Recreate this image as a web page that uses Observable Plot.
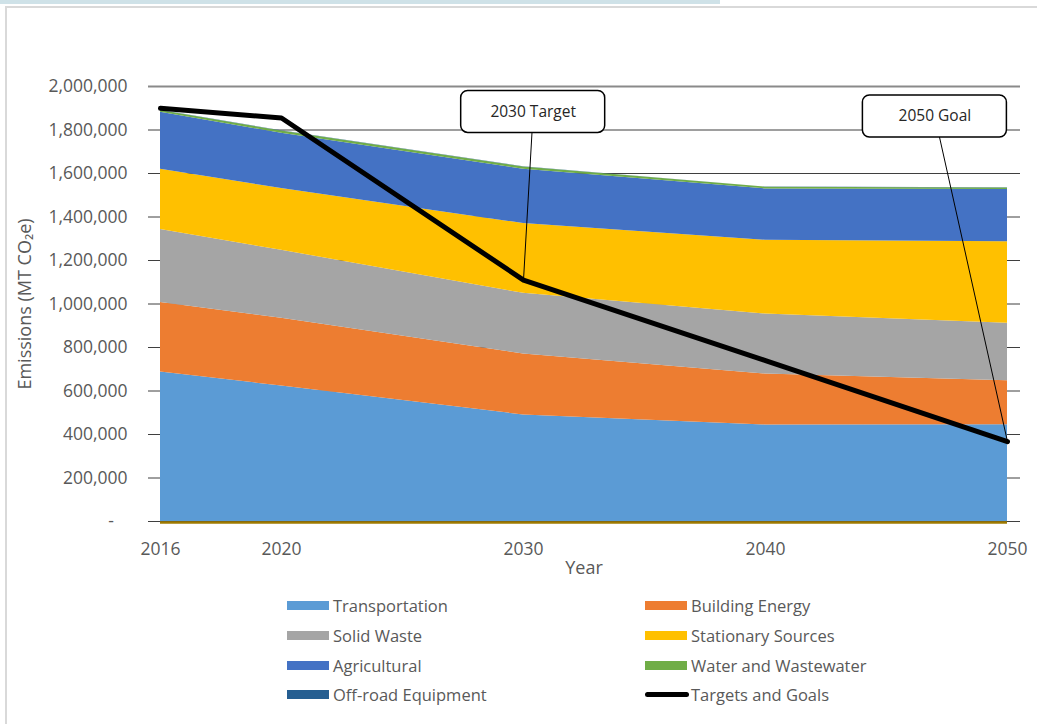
<!DOCTYPE html>
<html>
<head>
<meta charset="utf-8">
<script src="https://cdn.jsdelivr.net/npm/d3@7"></script>
<script src="https://cdn.jsdelivr.net/npm/@observablehq/plot@0.6"></script>
<style>
  html, body { margin: 0; padding: 0; background: #fff; overflow: hidden; }
  body { width: 1037px; height: 724px; position: relative; font-family: "Open Sans", sans-serif; }
  #topstrip { position: absolute; left: 0; top: 0; width: 720px; height: 4px; background: #cfe2e8; }
  #frame { position: absolute; left: 5px; top: 6px; width: 1100px; height: 800px; border-left: 2px solid #d9d9d9; border-top: 2px solid #d9d9d9; }
  #chart { position: absolute; left: 0; top: 0; }
  #legend { position: absolute; left: 0; top: 0; width: 1037px; height: 724px; pointer-events: none; }
  .item { position: absolute; display: flex; align-items: center; font-size: 16.5px; color: #595959; white-space: nowrap; }
  .sw { width: 42px; height: 9px; margin-right: 4px; }
  .ln { width: 44px; height: 5px; border-radius: 3px; background: #000; margin-right: 2px; }
</style>
</head>
<body>
<div id="topstrip"></div>
<div id="frame"></div>
<div id="chart"></div>
<div id="legend"></div>
<script>
// ---- data ----
const years = [2016, 2020, 2030, 2040, 2050];
const seriesNames = ["Transportation", "Building Energy", "Solid Waste", "Stationary Sources", "Agricultural", "Water and Wastewater", "Off-road Equipment"];
const seriesColors = ["#5B9BD5", "#ED7D31", "#A5A5A5", "#FFC000", "#4472C4", "#70AD47", "#255E91"];
const transportation = [687000, 623000, 490000, 444000, 445000];
const buildingEnergy = [320000, 311000, 280000, 234000, 202000];
const solidWaste = [335000, 313000, 279000, 276000, 264000];
const stationarySources = [277000, 284000, 321000, 339000, 375000];
const agricultural = [263000, 254000, 250000, 236000, 240000];
const waterWastewater = [8000, 10000, 10000, 8000, 7000];
const offroadEquipment = [1000, 1000, 1000, 1000, 1000];
const targets = [1900000, 1855000, 1110000, 740000, 367000];
const yTicks = [0, 200000, 400000, 600000, 800000, 1000000, 1200000, 1400000, 1600000, 1800000, 2000000];
const notes = [
  {label: "2030 Target", year: 2030, labelYear: 2030.4, labelValue: 1883000},
  {label: "2050 Goal", year: 2050, labelYear: 2047.0, labelValue: 1862000}
];

// ---- tables ----
const seriesValues = [transportation, buildingEnergy, solidWaste, stationarySources, agricultural, waterWastewater, offroadEquipment];
const stack = [];
seriesNames.forEach((name, s) => years.forEach((yr, i) => stack.push({series: name, year: yr, value: seriesValues[s][i]})));
const targetRows = years.map((yr, i) => ({year: yr, value: targets[i]}));
const noteRows = notes.map(n => ({...n, value: targets[years.indexOf(n.year)]}));

const fmt = d3.format(",");
const chart = Plot.plot({
  width: 1037,
  height: 585,
  marginLeft: 160,
  marginRight: 30,
  marginTop: 86,
  marginBottom: 64,
  style: {fontFamily: "Open Sans, sans-serif", fontSize: "17.5px", color: "#595959", background: "transparent", overflow: "visible"},
  x: {type: "linear", domain: [2016, 2020, 2050], range: [160, 281, 1007], ticks: years, tickFormat: d => String(d), tickSize: 0, tickPadding: 21, label: null},
  y: {domain: [0, 2000000], ticks: yTicks, tickFormat: d => d === 0 ? "-\u00a0\u00a0\u00a0" : fmt(d), tickSize: 0, tickPadding: 33, label: null},
  color: {domain: seriesNames, range: seriesColors},
  marks: [
    Plot.ruleY(yTicks.filter(t => t < 2000000), {stroke: "#3f3f3f", strokeWidth: 1, insetLeft: -12, insetRight: -13}),
    Plot.ruleY(yTicks.filter(t => t === 2000000), {stroke: "#8a8a8a", strokeWidth: 2, insetLeft: -12, insetRight: -13}),
    Plot.areaY(stack, {x: "year", y: "value", z: "series", fill: "series", order: null}),
    Plot.ruleY([0], {stroke: "#9E7A00", strokeWidth: 2.5, dy: 1}),
    Plot.line(targetRows, {x: "year", y: "value", stroke: "#000", strokeWidth: 5, strokeLinejoin: "round", strokeLinecap: "round"}),
    Plot.link(noteRows, {x1: "labelYear", y1: "labelValue", x2: "year", y2: "value", stroke: "#000", strokeWidth: 1}),
    Plot.rect(noteRows, {x1: "labelYear", x2: "labelYear", y1: "labelValue", y2: "labelValue", insetLeft: -72, insetRight: -72, insetTop: -21, insetBottom: -21, rx: 7, fill: "#fff", stroke: "#000", strokeWidth: 1.5}),
    Plot.text(noteRows, {x: "labelYear", y: "labelValue", text: "label", fontSize: 15.5, fill: "#262626"}),
    Plot.text(["Emissions (MT CO₂e)"], {frameAnchor: "left", textAnchor: "middle", rotate: -90, dx: -135, fontSize: 18, fill: "#595959"}),
    Plot.text(["Year"], {frameAnchor: "bottom", dy: 52, fontSize: 18, fill: "#595959"})
  ]
});
document.getElementById("chart").appendChild(chart);

// ---- legend ----
const legend = document.getElementById("legend");
const entries = seriesNames.map((n, i) => ({name: n, color: seriesColors[i], line: false}));
entries.push({name: "Targets and Goals", color: "#000", line: true});
const colX = [287, 645];
const rowY = [605, 635, 665, 694];
entries.forEach((e, i) => {
  const el = document.createElement("div");
  el.className = "item";
  el.style.left = colX[i % 2] + "px";
  el.style.top = (rowY[Math.floor(i / 2)] - 12) + "px";
  el.style.height = "24px";
  const sw = document.createElement("span");
  sw.className = e.line ? "ln" : "sw";
  if (!e.line) sw.style.background = e.color;
  el.appendChild(sw);
  const t = document.createElement("span");
  t.textContent = e.name;
  el.appendChild(t);
  legend.appendChild(el);
});
</script>
</body>
</html>
